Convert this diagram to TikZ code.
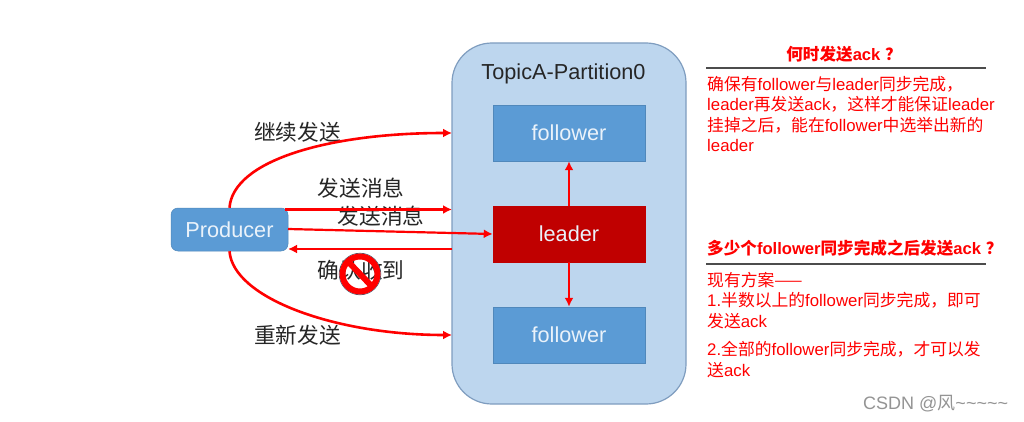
\documentclass[tikz,border=0pt]{standalone}
\usepackage{fontspec}
\setmainfont{Liberation Sans}
\newfontfamily\cjk{Noto Sans CJK SC}
\usetikzlibrary{arrows.meta}
\newcommand{\zh}[1]{{\cjk #1}}
\definecolor{panelblue}{HTML}{BDD6EE}
\definecolor{panelline}{HTML}{7F9DBF}
\definecolor{boxblue}{HTML}{5B9BD5}
\definecolor{leaderred}{HTML}{C00000}
\definecolor{arrowred}{HTML}{FF0000}
\definecolor{inktext}{HTML}{262626}
\definecolor{softwhite}{HTML}{EAF2FA}
\tikzset{
  x=1pt,y=-1pt,
  panel/.style={draw=panelline,line width=1.2pt,fill=panelblue,rounded corners=40pt,minimum width=234pt,minimum height=361pt,inner sep=0pt},
  box/.style={draw=boxblue!88!black,line width=.5pt,fill=boxblue,text=softwhite,minimum width=152pt,minimum height=56pt,inner sep=0pt,font=\fontsize{21.7}{24}\selectfont},
  redbox/.style={box,fill=leaderred,draw=leaderred},
  prod/.style={box,rounded corners=7pt,minimum width=117pt,minimum height=43pt},
  conn/.style={draw=arrowred,line width=2.2pt,-{Latex[length=9pt,width=9pt]}},
  curve/.style={conn,line width=2.6pt},
  lab/.style={inner sep=0pt,text=inktext,font=\fontsize{21.7}{24}\selectfont},
  note/.style={inner sep=0pt,anchor=west,text=arrowred,font=\fontsize{16.8}{18}\selectfont},
  head/.style={inner sep=0pt,text=arrowred,font=\fontsize{16.6}{18}\selectfont\bfseries},
  rule/.style={draw=black!70,line width=2pt},
}
\begin{document}
\begin{tikzpicture}
\useasboundingbox (0,0) rectangle (1024,422);
\fill[white] (0,0) rectangle (1024,422);
\node[panel] (panel) at (569,223.5) {};
\node[box] (f1) at (569,133) {follower};
\node[redbox] (ld) at (569,234) {leader};
\node[box] (f2) at (569,335) {follower};
\node[prod] (pr) at (229.5,229.5) {Producer};
\node[anchor=north,inner sep=0pt,font=\fontsize{21.7}{24}\selectfont,text=inktext] (title) at (563.5,64) {TopicA-Partition0};

\coordinate (upEnd) at (452,133);
\coordinate (lowEnd) at (452,335);
\coordinate (midEnd) at (452,209.5);
\coordinate (midStart) at (285,209.5);
\coordinate (sendStart) at (288,229);
\coordinate (ackStart) at (452,249);
\coordinate (ackEnd) at (288,249);

\node[lab] (l1) at (297.5,132) {\zh{继续发送}};
\node[lab] (l2) at (361,188.5) {\zh{发送消息}};
\node[lab] (l3) at (381,216) {\zh{发送消息}};
\node[lab] (l4) at (361,270) {\zh{确认收到}};
\node[lab] (l5) at (297.5,335) {\zh{重新发送}};

\draw[curve] (pr.north) .. controls (233,160) and (330,133) .. (upEnd);
\draw[curve] (pr.south) .. controls (233,298) and (335,335) .. (lowEnd);
\draw[conn] (midStart) -- (midEnd);
\draw[conn] (sendStart) -- (ld.west);
\draw[conn] (ackStart) -- (ackEnd);
\draw[conn] (ld.north) -- (f1.south);
\draw[conn] (ld.south) -- (f2.north);

\coordinate (no) at (360,274);
\draw[draw=panelline!60!black,line width=.7pt] (no) circle (20.8pt);
\draw[draw=arrowred,line width=6pt] (no) circle (17.5pt);
\draw[draw=arrowred,line width=6pt] (348,261.5) -- (372,286.5);

\node[head] (h1) at (844,54.5) {\zh{\bfseries 何时发送}ack \zh{\bfseries ？}};
\coordinate (r1a) at (706,68.5); \coordinate (r1b) at (986,68.5);
\draw[rule] (r1a) -- (r1b);
\node[note] (n1) at (707,84.5) {\zh{确保有}follower\zh{与}leader\zh{同步完成，}};
\node[note] (n2) at (707,104.5) {leader\zh{再发送}ack\zh{，这样才能保证}leader};
\node[note] (n3) at (707,125) {\zh{挂掉之后，能在}follower\zh{中选举出新的}};
\node[note] (n4) at (707,145.5) {leader};

\node[head,anchor=west] (h2) at (707,248.5) {\zh{\bfseries 多少个}follower\zh{\bfseries 同步完成之后发送}ack \zh{\bfseries ？}};
\coordinate (r2a) at (706,264); \coordinate (r2b) at (986,264);
\draw[rule] (r2a) -- (r2b);
\node[note] (n5) at (707,280.5) {\zh{现有方案——}};
\node[note] (n6) at (707,300.5) {1.\zh{半数以上的}follower\zh{同步完成，即可}};
\node[note] (n7) at (707,321) {\zh{发送}ack};
\node[note] (n8) at (707,349.5) {2.\zh{全部的}follower\zh{同步完成，才可以发}};
\node[note] (n9) at (707,370) {\zh{送}ack};

\node[inner sep=0pt,anchor=west,text=black!42,font=\fontsize{18}{20}\selectfont] (wm) at (863,404) {CSDN @\zh{风}\textasciitilde\textasciitilde\textasciitilde\textasciitilde\textasciitilde};
\end{tikzpicture}
\end{document}
